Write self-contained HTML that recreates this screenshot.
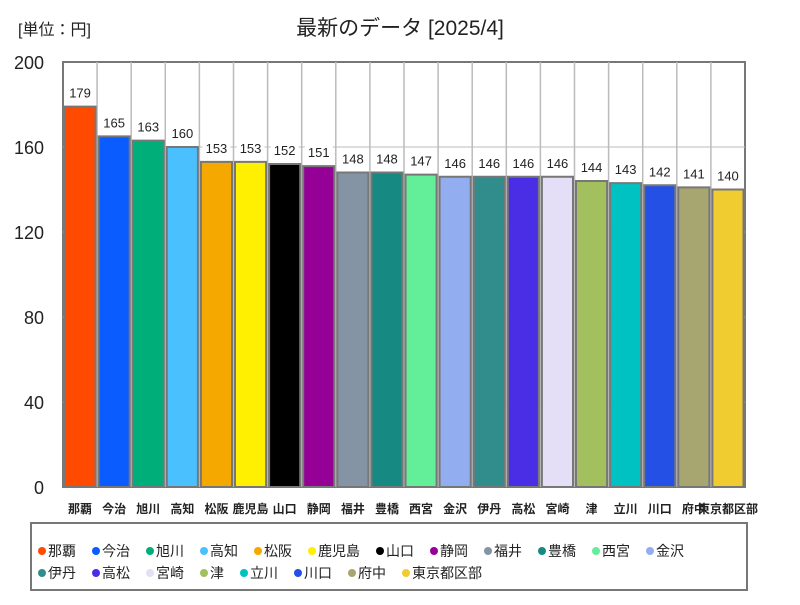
<!DOCTYPE html>
<html><head><meta charset="utf-8">
<style>
body{margin:0;background:#fff;}
svg text{font-family:"Liberation Sans","Noto Sans CJK JP",sans-serif;}
</style></head>
<body>
<svg id="chart" width="800" height="600" viewBox="0 0 800 600" xmlns="http://www.w3.org/2000/svg">
<rect width="800" height="600" fill="#fff"/>
<text x="18" y="35" font-size="16" fill="#222">[単位：円]</text>
<text x="400" y="35" font-size="21" text-anchor="middle" fill="#222">最新のデータ [2025/4]</text>
<g id="grid"></g>
<g id="bars"></g>
<g id="yticks"></g>
<g id="xlabels"></g>
<rect x="31" y="523" width="716" height="67" fill="#fff" stroke="#777" stroke-width="2"/>
<g id="legend"></g>
</svg>
<script>
const categories=["那覇","今治","旭川","高知","松阪","鹿児島","山口","静岡","福井","豊橋","西宮","金沢","伊丹","高松","宮崎","津","立川","川口","府中","東京都区部"];
const values=[179,165,163,160,153,153,152,151,148,148,147,146,146,146,146,144,143,142,141,140];
const colors=["#ff4a00","#0a5cff","#00ae7a","#4ac0ff","#f5a800","#ffef00","#000000","#950096","#8494a4","#168a82","#63ee9a","#93aef0","#318c8c","#4a2ee6","#e4dff7","#a2c05e","#00c2c2","#2450e6","#a8a670","#f0cc30"];
const yTicks=[0,40,80,120,160,200];
const X0=63,X1=745,Y0=487,Y1=62,YMAX=200;
const n=categories.length,cw=(X1-X0)/n;
const ys=v=>Y0-(v/YMAX)*(Y0-Y1);
const xs=i=>X0+i*cw;
const NS="http://www.w3.org/2000/svg";
function mk(t,a,p){const e=document.createElementNS(NS,t);for(const k in a)e.setAttribute(k,a[k]);p.appendChild(e);return e;}
const grid=document.getElementById('grid'),bars=document.getElementById('bars'),yt=document.getElementById('yticks'),xl=document.getElementById('xlabels'),lg=document.getElementById('legend');
mk('rect',{x:X0,y:Y1,width:X1-X0,height:Y0-Y1,fill:'#fff',stroke:'#777','stroke-width':2},grid);
for(let i=1;i<n;i++){const l=mk('line',{x1:xs(i),x2:xs(i),y1:Y1,y2:Y0,stroke:'#bbb','stroke-width':1.5},grid);

}
yTicks.forEach(t=>{
 if(t>0&&t<YMAX){const l=mk('line',{x1:X0,x2:X1,y1:ys(t),y2:ys(t),stroke:'#bbb','stroke-width':1},grid);
 
 }
 const tx=mk('text',{x:44,y:ys(t)+7,'font-size':18,'text-anchor':'end',fill:'#222'},yt);tx.textContent=t;
 
 
});
values.forEach((v,i)=>{
 const r=mk('rect',{x:xs(i)+1.5,y:ys(v),width:cw-3,height:Y0-ys(v),fill:colors[i],stroke:'#777','stroke-width':2},bars);
 
 
 const bg=mk('rect',{x:xs(i)+cw/2-14,y:ys(v)-22,width:28,height:16,fill:'#fff'},bars);
 const t=mk('text',{x:xs(i)+cw/2,y:ys(v)-9,'font-size':13,'text-anchor':'middle',fill:'#222'},bars);t.textContent=v;
 
 
 const x=mk('text',{x:xs(i)+cw/2,y:513,'font-size':12,'font-weight':'bold','text-anchor':'middle',fill:'#222'},xl);x.textContent=categories[i];
 
 
});
let lx=38,ly=556;
categories.forEach((c,i)=>{
 const w=14+c.length*14+12;
 if(lx+w>745){lx=38;ly+=22;}
 const g=mk('g',{},lg);
 
 
 mk('circle',{cx:lx+4,cy:ly-5,r:4,fill:colors[i]},g);
 const t=mk('text',{x:lx+10,y:ly,'font-size':14,fill:'#222'},g);t.textContent=c;
 lx+=w;
});
</script>
</body></html>
